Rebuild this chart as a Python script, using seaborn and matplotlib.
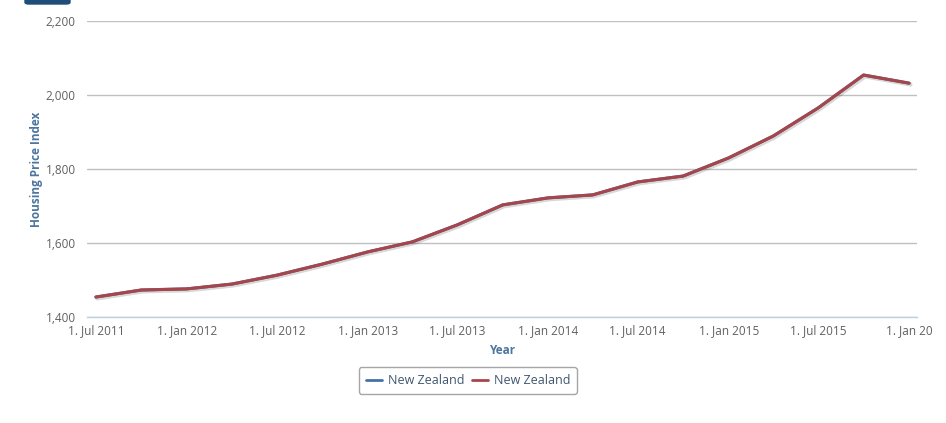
import seaborn as sns
import pandas as pd
import numpy as np
import matplotlib.pyplot as plt
import matplotlib.dates as mdates
import matplotlib.patheffects as pe
from matplotlib.patches import FancyBboxPatch

# Quarterly housing price index, New Zealand
dates = ['2011-07-01', '2011-10-01', '2012-01-01', '2012-04-01', '2012-07-01',
         '2012-10-01', '2013-01-01', '2013-04-01', '2013-07-01', '2013-10-01',
         '2014-01-01', '2014-04-01', '2014-07-01', '2014-10-01', '2015-01-01',
         '2015-04-01', '2015-07-01', '2015-10-01', '2016-01-01']
index_values = [1454, 1473, 1476, 1489, 1513, 1543, 1576, 1603, 1649, 1703,
                1722, 1730, 1765, 1781, 1830, 1889, 1965, 2054, 2032]
tick_dates = ['2011-07-01', '2012-01-01', '2012-07-01', '2013-01-01', '2013-07-01',
              '2014-01-01', '2014-07-01', '2015-01-01', '2015-07-01', '2016-01-01']
tick_labels = ['1. Jul 2011', '1. Jan 2012', '1. Jul 2012', '1. Jan 2013', '1. Jul 2013',
               '1. Jan 2014', '1. Jul 2014', '1. Jan 2015', '1. Jul 2015', '1. Jan 20']
y_ticks = [1400, 1600, 1800, 2000, 2200]

df = pd.DataFrame({'date': pd.to_datetime(dates), 'value': index_values})

sns.set_style('white')
plt.rcParams['font.family'] = ['Open Sans', 'DejaVu Sans']

W, H = 946, 423
fig = plt.figure(figsize=(W / 100, H / 100), dpi=100)
ax = fig.add_axes([87 / W, 106 / H, 830 / W, 296 / H])

shadow = [pe.SimpleLineShadow(offset=(1, -1), shadow_color='#000000', alpha=0.08, linewidth=3),
          pe.Normal()]
sns.lineplot(data=df, x='date', y='value', ax=ax, color='#4572a7', linewidth=2.2,
             label='New Zealand', path_effects=shadow)
sns.lineplot(data=df, x='date', y='value', ax=ax, color='#a8454a', linewidth=2.2,
             label='New Zealand', path_effects=shadow)

ax.set_xlim(pd.Timestamp('2011-06-13'), pd.Timestamp('2016-01-17'))
ax.set_ylim(1400, 2200)
ax.set_yticks(y_ticks)
ax.set_yticklabels([f'{v:,}' for v in y_ticks])
ax.set_xticks(pd.to_datetime(tick_dates))
ax.set_xticklabels(tick_labels)

ax.grid(axis='y', color='#c0c0c0', linewidth=1)
ax.grid(axis='x', visible=False)
for side in ['top', 'right', 'left']:
    ax.spines[side].set_visible(False)
ax.spines['bottom'].set_color('#c0d0e0')
ax.spines['bottom'].set_linewidth(1)

ax.tick_params(axis='x', direction='out', length=5, width=1, color='#c0d0e0',
               labelsize=8.5, labelcolor='#606060', pad=0)
ax.tick_params(axis='y', length=0, labelsize=8.5, labelcolor='#606060', pad=8)

ax.set_xlabel('Year', fontsize=8.5, fontweight='bold', color='#4d759e', labelpad=5)
ax.set_ylabel('Housing Price Index', fontsize=8.5, fontweight='bold', color='#4d759e', labelpad=2)

leg = ax.legend(loc='upper center', bbox_to_anchor=(0.459, -0.148), ncol=2, frameon=True,
                fontsize=9, handlelength=1.3, handletextpad=0.45, columnspacing=0.6,
                borderpad=0.55, fancybox=True)
leg.get_frame().set_edgecolor('#909090')
leg.get_frame().set_linewidth(1)
for t in leg.get_texts():
    t.set_color('#3e576f')
for line in leg.get_lines():
    line.set_linewidth(2)
    line.set_path_effects([])

# small dark button fragment at the top-left edge
fig.patches.append(FancyBboxPatch((25 / W, 419 / H), 45 / W, 8 / H,
                                  boxstyle='round,pad=0,rounding_size=0.004',
                                  transform=fig.transFigure, color='#1f4e79'))

fig.savefig('out.png', dpi=100)
